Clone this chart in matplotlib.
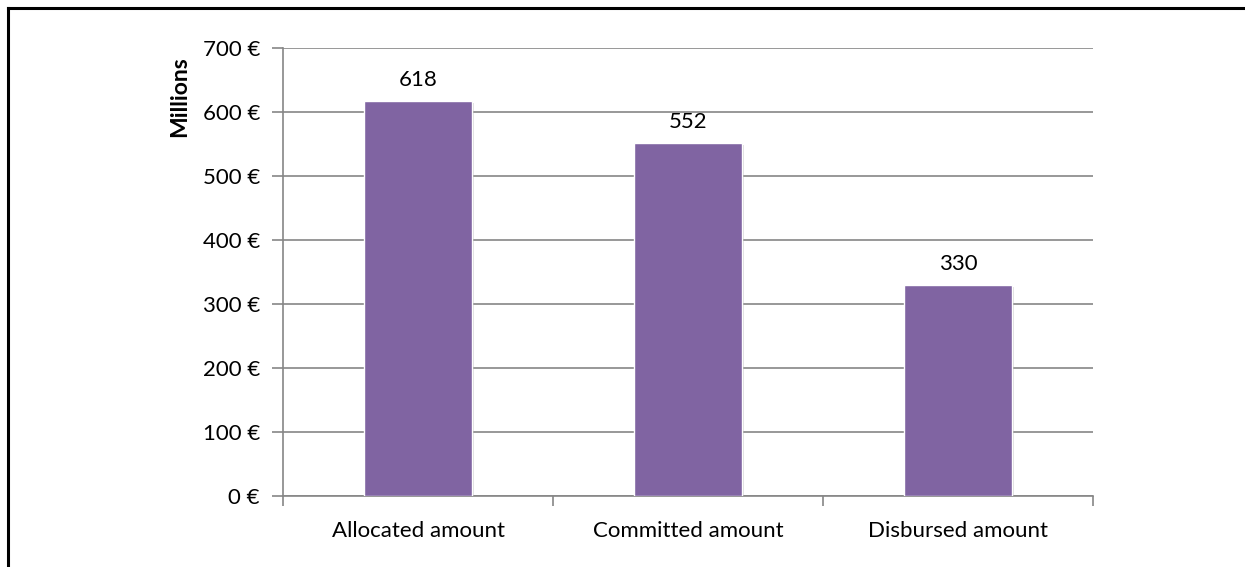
import matplotlib
matplotlib.use("Agg")
import matplotlib.pyplot as plt
import matplotlib.patheffects as pe
from matplotlib.lines import Line2D
from matplotlib.ticker import FuncFormatter, MultipleLocator

# amounts in millions of euros
categories = ["Allocated amount", "Committed amount", "Disbursed amount"]
amounts = [618, 552, 330]

plt.rcParams["font.family"] = ["Lato", "DejaVu Sans"]

fig = plt.figure(figsize=(12.45, 5.67), dpi=100)
ax = fig.add_axes([0.2277, 0.1259, 0.6500, 0.7889])

bar_color = "#8064A2"
grid_color = "#868686"

x = list(range(len(categories)))
bars = ax.bar(x, amounts, width=0.4, color=bar_color, edgecolor="white",
              linewidth=1.0, zorder=3)
for b in bars:
    b.set_path_effects([pe.SimplePatchShadow(offset=(1.5, -1.5), shadow_rgbFace="#999999",
                                             alpha=0.35), pe.Normal()])

# value labels above the bars
for xi, v in zip(x, amounts):
    ax.text(xi, v + 33, f"{v}", ha="center", va="center", fontsize=16, color="black")

ax.set_xlim(-0.5, len(categories) - 0.5)
ax.set_ylim(0, 700)
ax.yaxis.set_major_locator(MultipleLocator(100))
ax.yaxis.set_major_formatter(FuncFormatter(lambda v, p: f"{int(v)} €"))
ax.yaxis.grid(True, color=grid_color, linewidth=1.2, zorder=0)
ax.set_axisbelow(True)

# category ticks sit on the boundaries between bars
ax.set_xticks(x)
ax.set_xticklabels(categories, fontsize=16)
ax.set_xticks([-0.5, 0.5, 1.5, 2.5], minor=True)
ax.tick_params(axis="x", which="major", length=0, pad=18)
ax.tick_params(axis="x", which="minor", length=7, width=1.2, color=grid_color)
ax.tick_params(axis="y", length=8, width=1.2, color=grid_color, labelsize=16, pad=9)

for side in ["top", "right"]:
    ax.spines[side].set_visible(False)
for side in ["left", "bottom"]:
    ax.spines[side].set_color(grid_color)
    ax.spines[side].set_linewidth(1.2)

ax.set_ylabel("Millions", fontsize=16.5, fontweight="bold")
ax.yaxis.set_label_coords(-0.115, 0.891)

# outer frame lines
fig.add_artist(Line2D([8 / 1245, 8 / 1245], [0, 1 - 8 / 567], color="black", linewidth=2.2,
                      transform=fig.transFigure))
fig.add_artist(Line2D([8 / 1245, 1], [1 - 8 / 567, 1 - 8 / 567], color="black", linewidth=2.2,
                      transform=fig.transFigure))

fig.savefig("out.png", dpi=100)
